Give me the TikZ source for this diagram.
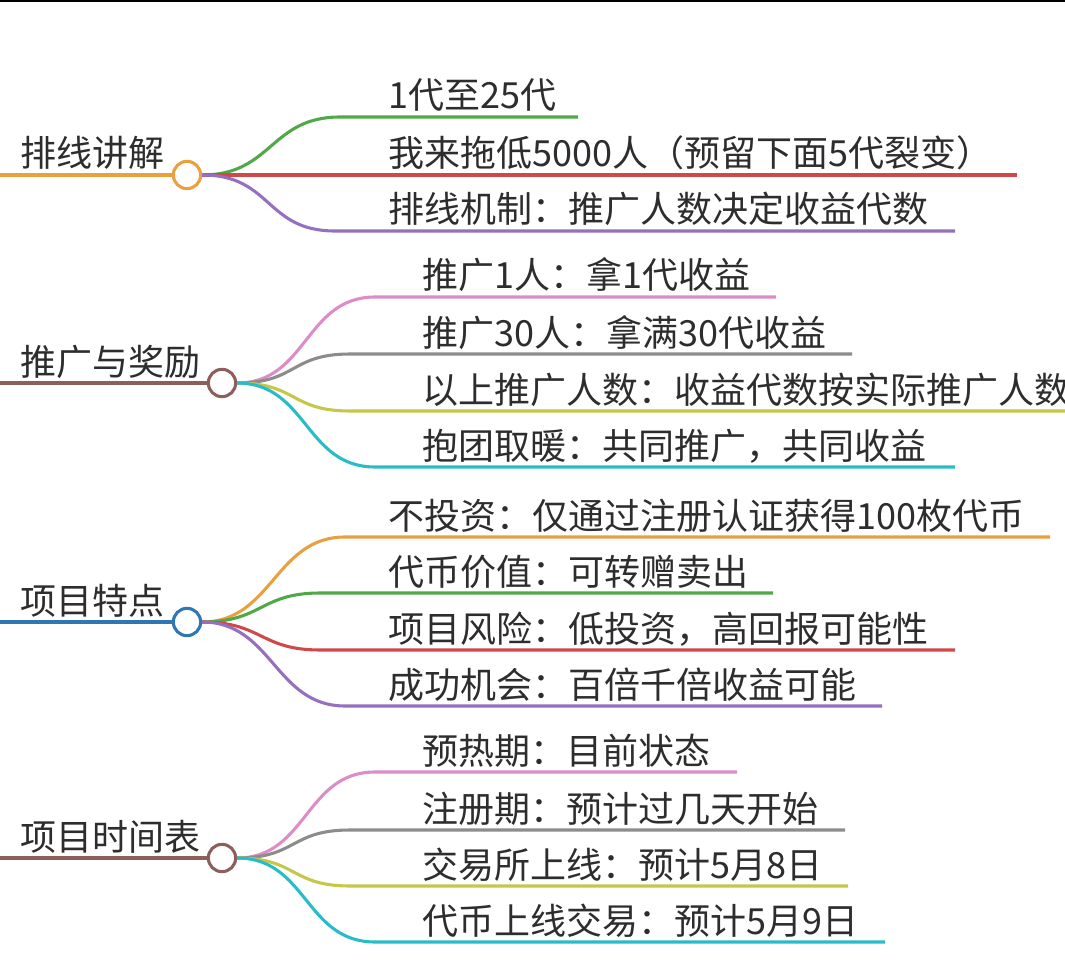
\documentclass[tikz,border=0pt]{standalone}
\usepackage{fontspec}
\setmainfont{Noto Sans CJK SC}
\definecolor{txt}{RGB}{45,45,45}
\definecolor{corange}{RGB}{233,160,62}
\definecolor{cgreen}{RGB}{80,168,72}
\definecolor{cred}{RGB}{208,72,72}
\definecolor{cpurple}{RGB}{150,112,190}
\definecolor{cbrown}{RGB}{140,95,92}
\definecolor{cpink}{RGB}{222,140,200}
\definecolor{cgray}{RGB}{140,140,140}
\definecolor{colive}{RGB}{198,198,72}
\definecolor{ccyan}{RGB}{40,188,200}
\definecolor{cblue}{RGB}{48,118,178}
\begin{document}
\begin{tikzpicture}[x=0.75pt,y=-0.75pt,
  lbl/.style={anchor=base west, inner sep=0pt, text=txt, font=\fontsize{27}{32}\selectfont},
  hub/.style={circle, draw, fill=white, line width=2.3pt, minimum size=20.5pt, inner sep=0pt},
  mainline/.style={line width=2.8pt},
  childline/.style={line width=2.3pt}]
\clip (0,0) rectangle (1065,977);
\fill[white] (0,0) rectangle (1065,977);
\draw[black, line width=2pt] (0,1) -- (1065,1);

% ---------- Branch 1 ----------
\coordinate (s1) at (0,175);
\draw[mainline, corange] (s1) -- (187,175);
\node[hub, draw=corange] (h1) at (187,175) {};
\node[lbl] (t1) at (20,167) {排线讲解};
\node[lbl] (c11) at (388,109) {1代至25代};
\node[lbl] (c12) at (388,167) {我来拖低5000人（预留下面5代裂变）};
\node[lbl] (c13) at (388,223) {排线机制：推广人数决定收益代数};
\coordinate (c11s) at (340,117); \coordinate (c11e) at (578,117);
\coordinate (c12e) at (1017,175);
\coordinate (c13s) at (335,231); \coordinate (c13e) at (955,231);
\draw[childline, cgreen] (h1.east) .. controls +(70,0) and +(-70,0) .. (c11s) -- (c11e);
\draw[childline, cred] (h1.east) -- (c12e);
\draw[childline, cpurple] (h1.east) .. controls +(70,0) and +(-70,0) .. (c13s) -- (c13e);

% ---------- Branch 2 ----------
\coordinate (s2) at (0,383);
\draw[mainline, cbrown] (s2) -- (222,383);
\node[hub, draw=cbrown] (h2) at (222,383) {};
\node[lbl] (t2) at (20,375) {推广与奖励};
\node[lbl] (c21) at (422,289) {推广1人：拿1代收益};
\node[lbl] (c22) at (422,346) {推广30人：拿满30代收益};
\node[lbl] (c23) at (422,403) {以上推广人数：收益代数按实际推广人数};
\node[lbl] (c24) at (422,459) {抱团取暖：共同推广，共同收益};
\coordinate (c21s) at (375,297); \coordinate (c21e) at (776,297);
\coordinate (c22s) at (350,354); \coordinate (c22e) at (852,354);
\coordinate (c23s) at (350,411); \coordinate (c23e) at (1070,411);
\coordinate (c24s) at (375,467); \coordinate (c24e) at (955,467);
\draw[childline, cpink] (h2.east) .. controls +(70,0) and +(-70,0) .. (c21s) -- (c21e);
\draw[childline, cgray] (h2.east) .. controls +(60,0) and +(-60,0) .. (c22s) -- (c22e);
\draw[childline, colive] (h2.east) .. controls +(60,0) and +(-60,0) .. (c23s) -- (c23e);
\draw[childline, ccyan] (h2.east) .. controls +(70,0) and +(-70,0) .. (c24s) -- (c24e);

% ---------- Branch 3 ----------
\coordinate (s3) at (0,622);
\draw[mainline, cblue] (s3) -- (187,622);
\node[hub, draw=cblue] (h3) at (187,622) {};
\node[lbl] (t3) at (20,614) {项目特点};
\node[lbl] (c31) at (388,529) {不投资：仅通过注册认证获得100枚代币};
\node[lbl] (c32) at (388,585) {代币价值：可转赠卖出};
\node[lbl] (c33) at (388,642) {项目风险：低投资，高回报可能性};
\node[lbl] (c34) at (388,698) {成功机会：百倍千倍收益可能};
\coordinate (c31s) at (345,537); \coordinate (c31e) at (1050,537);
\coordinate (c32s) at (320,593); \coordinate (c32e) at (773,593);
\coordinate (c33s) at (320,650); \coordinate (c33e) at (955,650);
\coordinate (c34s) at (345,706); \coordinate (c34e) at (882,706);
\draw[childline, corange] (h3.east) .. controls +(70,0) and +(-70,0) .. (c31s) -- (c31e);
\draw[childline, cgreen] (h3.east) .. controls +(60,0) and +(-60,0) .. (c32s) -- (c32e);
\draw[childline, cred] (h3.east) .. controls +(60,0) and +(-60,0) .. (c33s) -- (c33e);
\draw[childline, cpurple] (h3.east) .. controls +(70,0) and +(-70,0) .. (c34s) -- (c34e);

% ---------- Branch 4 ----------
\coordinate (s4) at (0,858);
\draw[mainline, cbrown] (s4) -- (222,858);
\node[hub, draw=cbrown] (h4) at (222,858) {};
\node[lbl] (t4) at (20,850) {项目时间表};
\node[lbl] (c41) at (422,764) {预热期：目前状态};
\node[lbl] (c42) at (422,822) {注册期：预计过几天开始};
\node[lbl] (c43) at (422,878) {交易所上线：预计5月8日};
\node[lbl] (c44) at (422,934) {代币上线交易：预计5月9日};
\coordinate (c41s) at (375,772); \coordinate (c41e) at (737,772);
\coordinate (c42s) at (350,830); \coordinate (c42e) at (845,830);
\coordinate (c43s) at (350,886); \coordinate (c43e) at (848,886);
\coordinate (c44s) at (375,942); \coordinate (c44e) at (885,942);
\draw[childline, cpink] (h4.east) .. controls +(70,0) and +(-70,0) .. (c41s) -- (c41e);
\draw[childline, cgray] (h4.east) .. controls +(60,0) and +(-60,0) .. (c42s) -- (c42e);
\draw[childline, colive] (h4.east) .. controls +(60,0) and +(-60,0) .. (c43s) -- (c43e);
\draw[childline, ccyan] (h4.east) .. controls +(70,0) and +(-70,0) .. (c44s) -- (c44e);
\end{tikzpicture}
\end{document}
